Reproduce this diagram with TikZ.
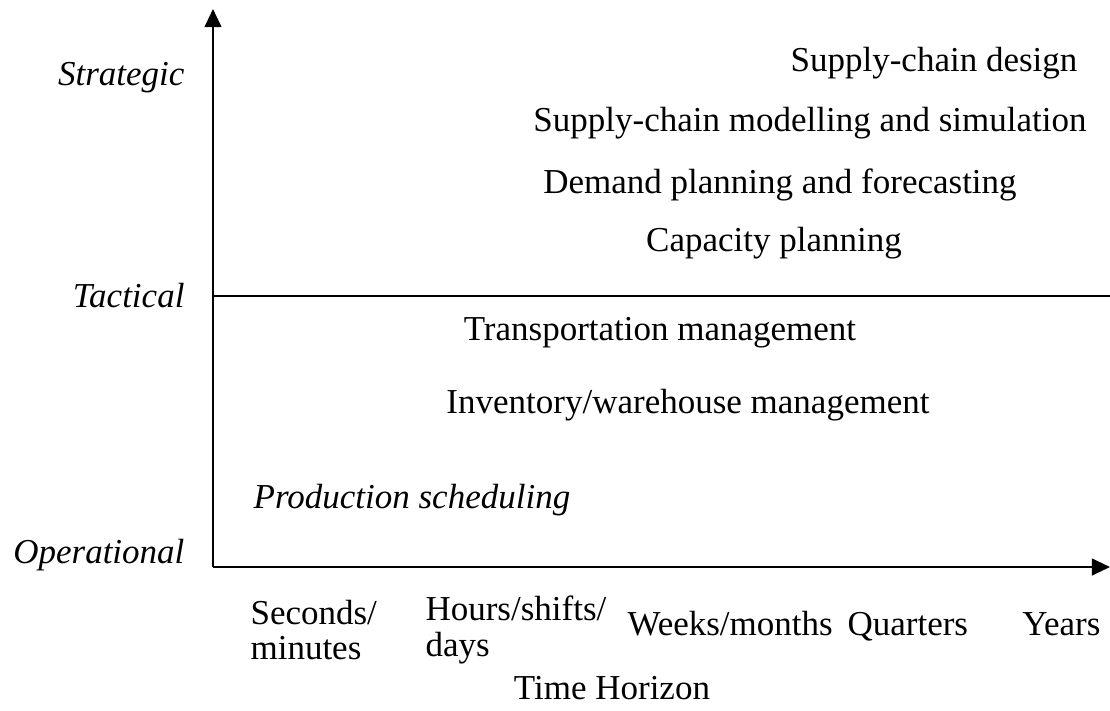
\documentclass[tikz,border=0pt]{standalone}
\usepackage{fontspec}
\setmainfont{Liberation Serif}
\usetikzlibrary{arrows.meta,positioning}
\begin{document}
\begin{tikzpicture}[
			x=0.36pt, y=-0.36pt,
			axis/.style={line width=0.8pt, -{Triangle[length=6.5pt,width=6pt]}},
			level/.style={font=\itshape\fontsize{12.6}{14}\selectfont, anchor=east, inner sep=0pt},
			task/.style={font=\fontsize{12.6}{14}\selectfont, inner sep=0pt},
			tick/.style={font=\fontsize{12.6}{12.8}\selectfont, anchor=west, align=left, inner sep=0pt}
		]
		\useasboundingbox (0,0) rectangle (1110,710);
		\coordinate (origin) at (213,567);
		\coordinate (ytip) at (213,9);
		\coordinate (xtip) at (1110,567);
		\coordinate (tacl) at (213,296);
		\coordinate (tacr) at (1110,296);

		\draw[axis] (origin) -- (ytip);
		\draw[axis] (origin) -- (xtip);
		\draw[line width=0.8pt] (tacl) -- (tacr);

		% levels
		\node[level] (strategic) at (185,78) {Strategic};
		\node[level] (tactical) at (185,296) {Tactical};
		\node[level] (operational) at (185,555) {Operational};

		% tasks
		\node[task] (design) at (934,63) {Supply-chain design};
		\node[task] (modelling) at (810,123) {Supply-chain modelling and simulation};
		\node[task] (demand) at (780,185) {Demand planning and forecasting};
		\node[task] (capacity) at (774,243) {Capacity planning};
		\node[task] (transport) at (660,333) {Transportation management};
		\node[task] (inventory) at (688,405) {Inventory/warehouse management};
		\node[task, font=\itshape\fontsize{12.6}{14}\selectfont] (production) at (412,500) {Production scheduling};

		% time horizon
		\node[tick] (seconds) at (250,630) {Seconds/\\minutes};
		\node[tick] (hours) at (425,630) {Hours/shifts/\\days};
		\node[tick, anchor=base west] (weeks) at (627,635) {Weeks/months};
		\node[tick, anchor=base west] (quarters) at (847,635) {Quarters};
		\node[tick, anchor=base east] (years) at (1101,635) {Years};
		\node[task] (horizon) at (612,688) {Time Horizon};
	\end{tikzpicture}
\end{document}
